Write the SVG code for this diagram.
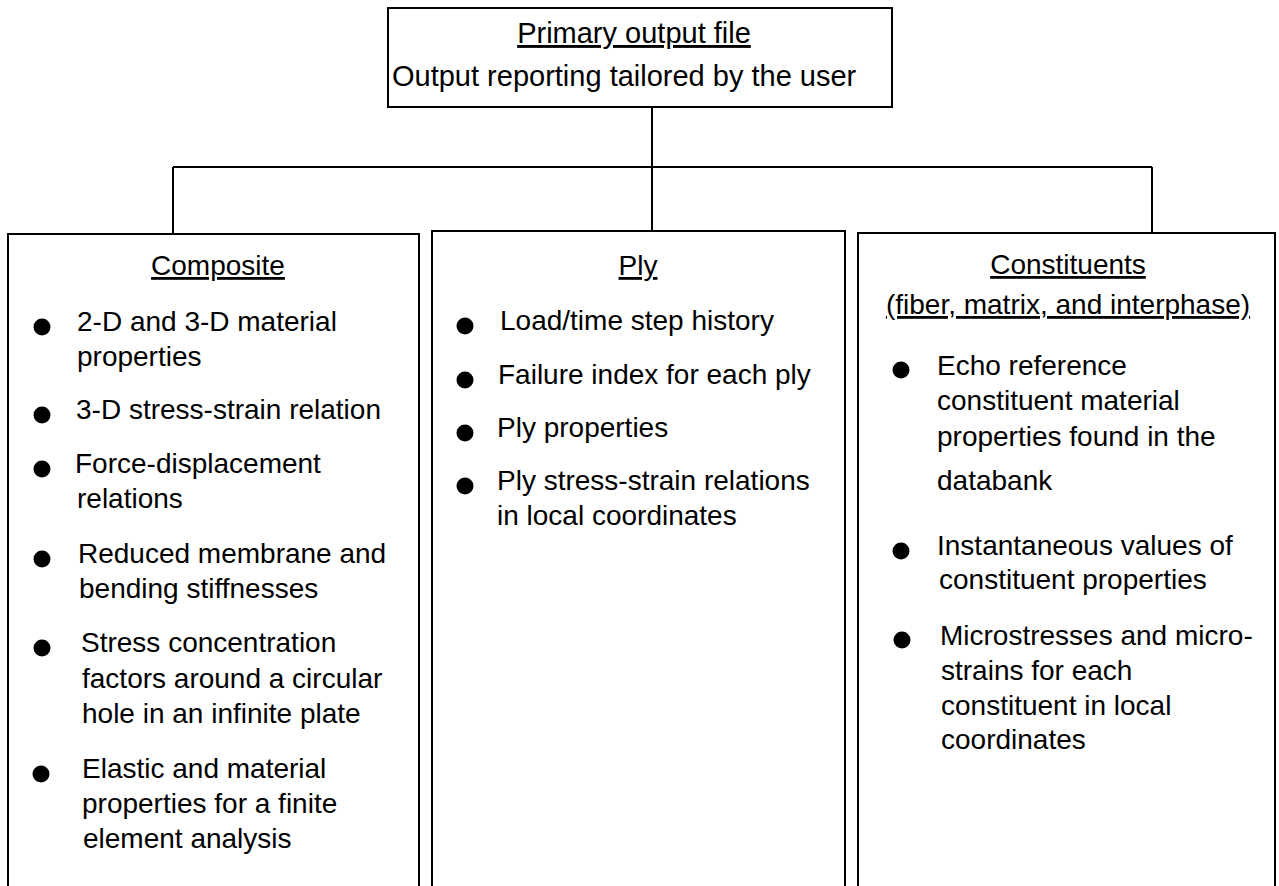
<svg xmlns="http://www.w3.org/2000/svg" width="1279" height="886" viewBox="0 0 1279 886">
<style>
.box{fill:#fff;stroke:#000;stroke-width:2}
.con{fill:none;stroke:#000;stroke-width:2}
text{font-family:"Liberation Sans",Arial,sans-serif;font-size:28px;fill:#000}
.t{text-anchor:middle;text-decoration:underline}
.b{fill:#000}
</style>
<rect width="1279" height="886" fill="#fff"/>
<g id="connectors">
<path class="con" d="M652,107 V231 M173,167 H1152 M173,167 V234 M1152,167 V233"/>
</g>
<g id="primary">
<rect class="box" x="388" y="8" width="504" height="99"/>
<text class="t" x="634" y="43" style="font-size:29px">Primary output file</text>
<text x="392" y="86" style="font-size:29px">Output reporting tailored by the user</text>
</g>
<g id="composite">
<rect class="box" x="8" y="234" width="411" height="680"/>
<text class="t" x="218" y="275">Composite</text>
<circle class="b" cx="42" cy="327" r="8.5"/>
<text x="77" y="331">2-D and 3-D material</text>
<text x="77" y="366">properties</text>
<circle class="b" cx="42" cy="415" r="8.5"/>
<text x="76" y="419">3-D stress-strain relation</text>
<circle class="b" cx="42" cy="469" r="8.5"/>
<text x="75" y="473">Force-displacement</text>
<text x="77" y="508">relations</text>
<circle class="b" cx="42" cy="559" r="8.5"/>
<text x="78" y="563">Reduced membrane and</text>
<text x="79" y="598">bending stiffnesses</text>
<circle class="b" cx="42" cy="648" r="8.5"/>
<text x="81" y="652">Stress concentration</text>
<text x="82" y="688">factors around a circular</text>
<text x="82" y="723">hole in an infinite plate</text>
<circle class="b" cx="41" cy="774" r="8.5"/>
<text x="82" y="778">Elastic and material</text>
<text x="82" y="813">properties for a finite</text>
<text x="83" y="848">element analysis</text>
</g>
<g id="ply">
<rect class="box" x="432" y="231" width="413" height="683"/>
<text class="t" x="638" y="275">Ply</text>
<circle class="b" cx="465" cy="326" r="8.5"/>
<text x="500" y="330">Load/time step history</text>
<circle class="b" cx="465" cy="380" r="8.5"/>
<text x="498" y="384">Failure index for each ply</text>
<circle class="b" cx="465" cy="433" r="8.5"/>
<text x="497" y="437">Ply properties</text>
<circle class="b" cx="465" cy="486" r="8.5"/>
<text x="497" y="490">Ply stress-strain relations</text>
<text x="497" y="525">in local coordinates</text>
</g>
<g id="constituents">
<rect class="box" x="858" y="233" width="417" height="681"/>
<text class="t" x="1068" y="274">Constituents</text>
<text class="t" x="1068" y="314">(fiber, matrix, and interphase)</text>
<circle class="b" cx="901" cy="370" r="8.5"/>
<text x="937" y="375">Echo reference</text>
<text x="937" y="410">constituent material</text>
<text x="937" y="446">properties found in the</text>
<text x="937" y="490">databank</text>
<circle class="b" cx="901" cy="551" r="8.5"/>
<text x="937" y="555">Instantaneous values of</text>
<text x="939" y="589">constituent properties</text>
<circle class="b" cx="902" cy="640" r="8.5"/>
<text x="940" y="645">Microstresses and micro-</text>
<text x="941" y="680">strains for each</text>
<text x="941" y="715">constituent in local</text>
<text x="941" y="749">coordinates</text>
</g>
</svg>
